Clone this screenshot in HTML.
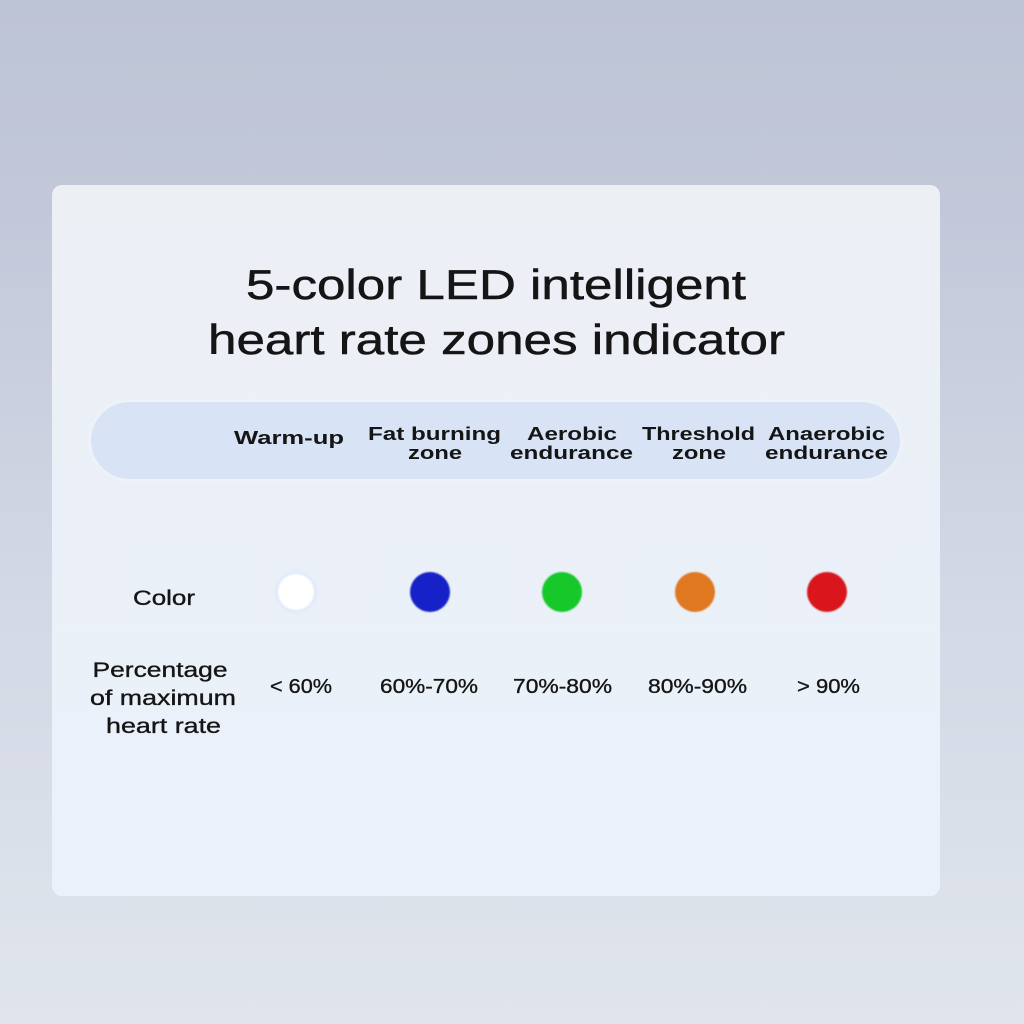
<!DOCTYPE html>
<html>
<head>
<meta charset="utf-8">
<style>
html,body{margin:0;padding:0;width:1024px;height:1024px;overflow:hidden;}
body{background:linear-gradient(to bottom,#bdc4d5 0%,#c3c9da 20%,#d2d8e4 60%,#dfe4ec 100%);}
svg{display:block;}
text{font-family:"Liberation Sans",sans-serif;fill:#151515;}
</style>
</head>
<body>
<svg width="1024" height="1024" viewBox="0 0 1024 1024" xmlns="http://www.w3.org/2000/svg">
  <defs>
    <linearGradient id="bg" x1="0" y1="0" x2="0" y2="1">
      <stop offset="0" stop-color="#bdc4d5"/>
      <stop offset="0.2" stop-color="#c2c8d9"/>
      <stop offset="0.6" stop-color="#d3d9e5"/>
      <stop offset="1" stop-color="#e0e5ed"/>
    </linearGradient>
    <linearGradient id="card" x1="0" y1="0" x2="0" y2="1">
      <stop offset="0" stop-color="#ecf0f5"/>
      <stop offset="1" stop-color="#eaf1fb"/>
    </linearGradient>
    <filter id="soft" x="-50%" y="-50%" width="200%" height="200%">
      <feGaussianBlur stdDeviation="0.9"/>
    </filter>
    <filter id="glow" x="-50%" y="-50%" width="200%" height="200%">
      <feGaussianBlur stdDeviation="2"/>
    </filter>
  </defs>
  <rect x="0" y="0" width="1024" height="1024" fill="url(#bg)"/>
  <rect x="52" y="185" width="888" height="711" rx="10" ry="10" fill="url(#card)"/>

  <!-- title -->
  <g stroke="#151515" stroke-width="0.5">
  <text x="496" y="299" font-size="42" text-anchor="middle" textLength="500" lengthAdjust="spacingAndGlyphs">5-color LED intelligent</text>
  <text x="496.5" y="354" font-size="42" text-anchor="middle" textLength="577" lengthAdjust="spacingAndGlyphs">heart rate zones indicator</text>
  </g>

  <!-- header pill -->
  <rect x="90" y="401" width="811" height="79" rx="39.5" fill="#f1f5fa" filter="url(#glow)"/>
  <rect x="91" y="402" width="809" height="77" rx="38.5" fill="#d8e4f5"/>

  <g font-weight="bold" font-size="18.5" text-anchor="middle">
    <text x="289" y="444" textLength="110" lengthAdjust="spacingAndGlyphs">Warm-up</text>
    <text x="434.5" y="440" textLength="133" lengthAdjust="spacingAndGlyphs">Fat burning</text>
    <text x="435" y="459" textLength="54" lengthAdjust="spacingAndGlyphs">zone</text>
    <text x="572" y="440" textLength="90" lengthAdjust="spacingAndGlyphs">Aerobic</text>
    <text x="571.5" y="459" textLength="123" lengthAdjust="spacingAndGlyphs">endurance</text>
    <text x="698.5" y="440" textLength="113" lengthAdjust="spacingAndGlyphs">Threshold</text>
    <text x="699" y="459" textLength="54" lengthAdjust="spacingAndGlyphs">zone</text>
    <text x="826.5" y="440" textLength="117" lengthAdjust="spacingAndGlyphs">Anaerobic</text>
    <text x="826.5" y="459" textLength="123" lengthAdjust="spacingAndGlyphs">endurance</text>
  </g>

  <!-- row labels -->
  <g font-size="21.5" text-anchor="middle" stroke="#151515" stroke-width="0.35">
    <text x="164" y="605" textLength="62" lengthAdjust="spacingAndGlyphs">Color</text>
    <text x="160" y="677" textLength="135" lengthAdjust="spacingAndGlyphs">Percentage</text>
    <text x="163" y="705" textLength="146" lengthAdjust="spacingAndGlyphs">of maximum</text>
    <text x="163.5" y="733" textLength="115" lengthAdjust="spacingAndGlyphs">heart rate</text>
  </g>

  <!-- dots -->
  <circle cx="296" cy="592" r="20.5" fill="#dde8fb" filter="url(#glow)"/>
  <circle cx="296" cy="592" r="18" fill="#ffffff" filter="url(#soft)"/>
  <circle cx="430" cy="592" r="20" fill="#1222c8" filter="url(#soft)"/>
  <circle cx="562" cy="592" r="20" fill="#19c82a" filter="url(#soft)"/>
  <circle cx="695" cy="592" r="20" fill="#e07822" filter="url(#soft)"/>
  <circle cx="827" cy="592" r="20" fill="#d8171f" filter="url(#soft)"/>

  <!-- percentages -->
  <g font-size="20.5" text-anchor="middle" stroke="#151515" stroke-width="0.35">
    <text x="301" y="693" textLength="62" lengthAdjust="spacingAndGlyphs">&lt; 60%</text>
    <text x="429" y="693" textLength="98" lengthAdjust="spacingAndGlyphs">60%-70%</text>
    <text x="562.5" y="693" textLength="99" lengthAdjust="spacingAndGlyphs">70%-80%</text>
    <text x="697.5" y="693" textLength="99" lengthAdjust="spacingAndGlyphs">80%-90%</text>
    <text x="828.5" y="693" textLength="63" lengthAdjust="spacingAndGlyphs">&gt; 90%</text>
  </g>
</svg>
</body>
</html>
